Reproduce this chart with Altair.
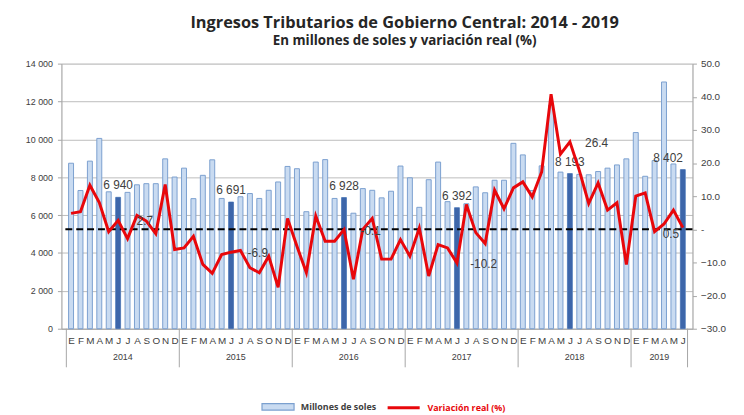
import altair as alt
import pandas as pd

meses = ["E", "F", "M", "A", "M", "J", "J", "A", "S", "O", "N", "D"]
anios = [2014, 2015, 2016, 2017, 2018, 2019]

# Millones de soles (Ene-2014 .. Jun-2019)
monto_2014 = [8740, 7300, 8850, 10050, 7230, 6940, 7200, 7600, 7660, 7660, 8970, 8010]
monto_2015 = [8480, 6870, 8100, 8920, 6880, 6691, 6970, 7140, 6880, 7310, 7750, 8570]
monto_2016 = [8450, 6180, 8800, 8930, 6880, 6928, 6100, 7400, 7310, 6910, 7260, 8590]
monto_2017 = [7970, 6410, 7870, 8800, 6710, 6392, 6600, 7490, 7180, 7840, 7840, 9790]
monto_2018 = [9180, 7300, 8600, 11800, 8270, 8193, 8150, 8130, 8300, 8480, 8650, 8970]
monto_2019 = [10360, 8050, 8880, 13030, 8700, 8402]

# Variación real (%)
var_2014 = [4.8, 5.3, 13.3, 8.1, -0.7, 2.7, -2.8, 4.2, 2.5, -1.3, 13.5, -6.1]
var_2015 = [-5.6, -2.1, -10.6, -13.3, -7.6, -6.9, -6.4, -11.6, -13.1, -8.1, -17.5, 3.3]
var_2016 = [-5.1, -13.1, 4.0, -3.6, -3.6, -0.1, -15.1, 0.0, 3.3, -9.0, -9.0, -3.1]
var_2017 = [-8.1, 0.4, -14.1, -4.6, -5.6, -10.2, 7.5, -1.0, -4.3, 11.8, 6.2, 12.5]
var_2018 = [14.3, 9.8, 17.3, 40.8, 22.7, 26.4, 17.8, 7.8, 14.0, 5.8, 8.0, -10.6]
var_2019 = [10.0, 11.0, -0.7, 1.6, 5.8, 0.5]

montos = monto_2014 + monto_2015 + monto_2016 + monto_2017 + monto_2018 + monto_2019
variaciones = var_2014 + var_2015 + var_2016 + var_2017 + var_2018 + var_2019

rows = []
for i, (m, v) in enumerate(zip(montos, variaciones)):
    rows.append({
        "idx": i,
        "anio": anios[0] + i // 12,
        "mes": meses[i % 12],
        "monto": m,
        "pct": v,
        "junio": (i % 12) == 5,
        "ultimo": i == len(montos) - 1,
        "etq_monto": f"{m:,}".replace(",", " "),
        "etq_pct": f"{v:.1f}",
        "serie": "Millones de soles",
        "serie2": "Variación real (%)",
    })
df = pd.DataFrame(rows)

n = len(montos)
sep_df = pd.DataFrame({"idx": [-0.5] + [12 * k - 0.5 for k in range(1, 6)] + [n - 0.5]})
anio_centro = []
for k, a in enumerate(anios):
    start = 12 * k
    end = min(12 * (k + 1), n) - 1
    anio_centro.append((start + end) / 2)
years_df = pd.DataFrame({"idx": anio_centro, "anio": [str(a) for a in anios]})

GRAY = "#404040"
AXC = "#a6a6a6"
FONT = "Liberation Sans"

x_enc = alt.X(
    "idx:Q",
    scale=alt.Scale(domain=[-0.5, n - 0.5], nice=False, zero=False),
    axis=alt.Axis(
        values=list(range(n)),
        labelExpr="['E','F','M','A','M','J','J','A','S','O','N','D'][datum.value % 12]",
        ticks=False, grid=False, domainColor=AXC, labelFontSize=10,
        labelPadding=7, labelOverlap=False, labelFlush=False, title=None,
        labelColor=GRAY, labelFont=FONT,
    ),
)

y_left = alt.Y(
    "monto:Q",
    scale=alt.Scale(domain=[0, 14000], nice=False),
    axis=alt.Axis(
        values=list(range(0, 14001, 2000)),
        labelExpr="replace(format(datum.value, ','), ',', ' ')",
        grid=True, gridColor="#bcbcbc", tickSize=4, tickColor=AXC,
        domainColor=AXC, labelFontSize=9, labelPadding=5, title=None,
        labelColor=GRAY, labelFont=FONT,
    ),
)

y_right = alt.Y(
    "pct:Q",
    scale=alt.Scale(domain=[-30, 50], nice=False),
    axis=alt.Axis(
        orient="right",
        values=list(range(-30, 51, 10)),
        labelExpr="datum.value == 0 ? '-' : format(datum.value, '.1f')",
        grid=False, tickSize=4, tickColor=AXC, domainColor=AXC,
        labelFontSize=10, labelPadding=4, title=None,
        labelColor=GRAY, labelFont=FONT,
    ),
)

bars = alt.Chart(df).mark_bar(size=5, stroke="#7ba0cf", strokeWidth=1).encode(
    x=x_enc,
    y=y_left,
    fill=alt.Fill(
        "serie:N",
        scale=alt.Scale(domain=["Millones de soles"], range=["#c9dbf1"]),
        legend=alt.Legend(
            title=None, orient="none", legendX=202, legendY=330,
            direction="horizontal",
            symbolType="M-1,-0.2L1,-0.2L1,0.2L-1,0.2Z", symbolSize=1050,
            symbolStrokeColor="#7ba0cf", symbolStrokeWidth=1.2,
            labelFontSize=9, labelFontWeight="bold", labelColor=GRAY,
            labelFont="Open Sans", labelOffset=6,
        ),
    ),
)

dark = alt.Chart(df).transform_filter("datum.junio").mark_bar(size=5, color="#3d66aa").encode(
    x=x_enc, y=y_left
)

bar_lbl = alt.Chart(df).transform_filter("datum.junio && !datum.ultimo").mark_text(
    dy=-12, fontSize=12, color=GRAY, font=FONT
).encode(x=x_enc, y=y_left, text="etq_monto:N")

bar_lbl_last = alt.Chart(df).transform_filter("datum.ultimo").mark_text(
    dy=-12, dx=-15, fontSize=12, color=GRAY, font=FONT
).encode(x=x_enc, y=y_left, text="etq_monto:N")

seps = alt.Chart(sep_df).mark_rule(color=AXC, strokeWidth=1).encode(
    x=x_enc, y=alt.value(268), y2=alt.value(307)
)

year_txt = alt.Chart(years_df).mark_text(fontSize=9, color=GRAY, font=FONT).encode(
    x=x_enc, y=alt.value(297), text="anio:N"
)

left = alt.layer(bars, dark, seps, year_txt, bar_lbl, bar_lbl_last)

zero_rule = alt.Chart(pd.DataFrame({"pct": [0]})).mark_rule(
    color="black", strokeWidth=2, strokeDash=[7, 4]
).encode(y=y_right)

line = alt.Chart(df).mark_line(strokeWidth=3).encode(
    x=x_enc,
    y=y_right,
    stroke=alt.Stroke(
        "serie2:N",
        scale=alt.Scale(domain=["Variación real (%)"], range=["#e8070b"]),
        legend=alt.Legend(
            title=None, orient="none", legendX=328, legendY=330,
            direction="horizontal", symbolType="stroke", symbolSize=1050,
            symbolStrokeWidth=3, labelFontSize=9, labelFontWeight="bold",
            labelColor="#e8070b", labelFont="Open Sans", labelOffset=6,
        ),
    ),
)

pct_lbl = alt.Chart(df).transform_filter("datum.junio && !datum.ultimo").mark_text(
    dx=27, dy=1, fontSize=12, color=GRAY, font=FONT
).encode(x=x_enc, y=y_right, text="etq_pct:N")

pct_lbl_last = alt.Chart(df).transform_filter("datum.ultimo").mark_text(
    dx=-12, dy=6, fontSize=12, color=GRAY, font=FONT
).encode(x=x_enc, y=y_right, text="etq_pct:N")

right = alt.layer(zero_rule, line, pct_lbl, pct_lbl_last)

chart = alt.layer(left, right).resolve_scale(y="independent").properties(
    width=638,
    height=268,
    autosize="none",
    padding={"left": 54, "top": 54, "right": 44, "bottom": 85},
    title=alt.TitleParams(
        text="Ingresos Tributarios de Gobierno Central: 2014 - 2019",
        subtitle="En millones de soles y variación real (%)",
        font="Open Sans", fontSize=16.5, fontWeight="bold", color="#262626",
        subtitleFont="Open Sans", subtitleFontSize=13.5, subtitleFontWeight="bold",
        subtitleColor="#262626", anchor="middle", dx=28, offset=11,
        subtitlePadding=3,
    ),
).configure_view(stroke=None).configure(background="white")

chart.save("out.html", embed_options={"renderer": "svg", "actions": False})
